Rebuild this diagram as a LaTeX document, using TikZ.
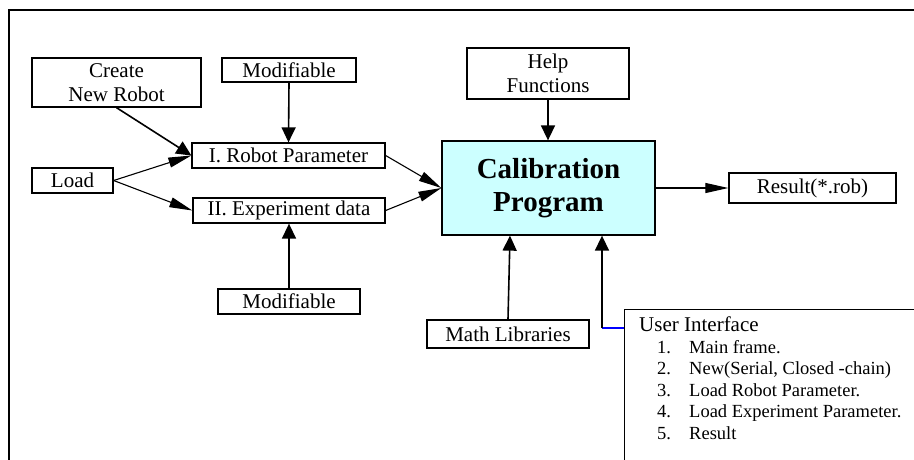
\documentclass[tikz,border=0pt]{standalone}
\usepackage{fontspec}
\setmainfont{Liberation Serif}
\usetikzlibrary{arrows.meta}
\definecolor{calibfill}{RGB}{204,255,255}
\begin{document}
\begin{tikzpicture}[x=1pt,y=-1pt,
  box/.style={draw,line width=1.3pt,inner sep=0pt,align=center,
    font=\fontsize{21}{23.5}\selectfont},
  thick arrow/.style={line width=1.6pt,-{Triangle[length=15pt,width=14pt]}},
  thin arrow/.style={line width=1.1pt,-{Triangle[length=23pt,width=10pt]}},
  uitext/.style={anchor=base west,inner sep=0pt,font=\fontsize{18.5}{21}\selectfont}]
\useasboundingbox (0,0) rectangle (914,459);
\clip (0,0) rectangle (914,459);
% outer frame
\draw[line width=2.4pt] (9,470) -- (9,10) -- (930,10);
% nodes
\node[box,minimum width=169,minimum height=49] (create) at (116.5,82.5) {Create\\New Robot};
\node[box,minimum width=134,minimum height=24] (mod1) at (289,70) {Modifiable};
\node[box,minimum width=193,minimum height=25] (rp) at (288.5,155.5) {I. Robot Parameter};
\node[box,minimum width=81,minimum height=25] (load) at (72.5,180.5) {Load};
\node[box,minimum width=192,minimum height=25] (ed) at (289,210.5) {II. Experiment data};
\node[box,minimum width=142,minimum height=25] (mod2) at (289,301.5) {Modifiable};
\node[box,fill=calibfill,minimum width=213,minimum height=94,
  font=\fontsize{29}{33}\selectfont\bfseries] (calib) at (548.5,188) {Calibration\\Program};
\node[box,minimum width=162,minimum height=51] (help) at (548,73.5) {Help\\Functions};
\node[box,minimum width=167,minimum height=30] (result) at (812.5,188) {Result(*.rob)};
\node[box,minimum width=162,minimum height=28] (math) at (508,334) {Math Libraries};
% user interface box (cut by the frame edge)
\node[draw,line width=1.3pt,anchor=north west,minimum width=320,minimum height=170,inner sep=0pt] (ui) at (624,309) {};
\node[uitext,font=\fontsize{21}{23}\selectfont] (uititle) at (639,331) {User Interface};
\node[uitext] (ui1n) at (657,353) {1.};
\node[uitext] (ui1) at (689,353) {Main frame.};
\node[uitext] (ui2n) at (657,374.5) {2.};
\node[uitext] (ui2) at (689,374.5) {New(Serial, Closed -chain)};
\node[uitext] (ui3n) at (657,396) {3.};
\node[uitext] (ui3) at (689,396) {Load Robot Parameter.};
\node[uitext] (ui4n) at (657,417.5) {4.};
\node[uitext] (ui4) at (689,417.5) {Load Experiment Parameter.};
\node[uitext] (ui5n) at (657,439) {5.};
\node[uitext] (ui5) at (689,439) {Result};
\coordinate (uiport) at (624,328);
\coordinate (uicorner) at (602,328);
% connectors
\draw[thick arrow] (create.south) -- (rp.west);
\draw[thick arrow] (mod1.south) -- (rp.north);
\draw[thin arrow] (load.east) -- (rp.west);
\draw[thin arrow] (load.east) -- (ed.west);
\draw[thick arrow] (mod2.north) -- (ed.south);
\draw[thin arrow] (rp.east) -- (calib.west);
\draw[thin arrow] (ed.east) -- (calib.west);
\draw[thick arrow] (help.south) -- (calib.north -| help.south);
\draw[thin arrow] (calib.east) -- (result.west);
\draw[thick arrow] (math.north) -- ([xshift=2pt]math.north |- calib.south);
\draw[blue,line width=1.6pt] (uiport) -- (uicorner);
\draw[thick arrow] (uicorner) -- (uicorner |- calib.south);
\end{tikzpicture}
\end{document}
